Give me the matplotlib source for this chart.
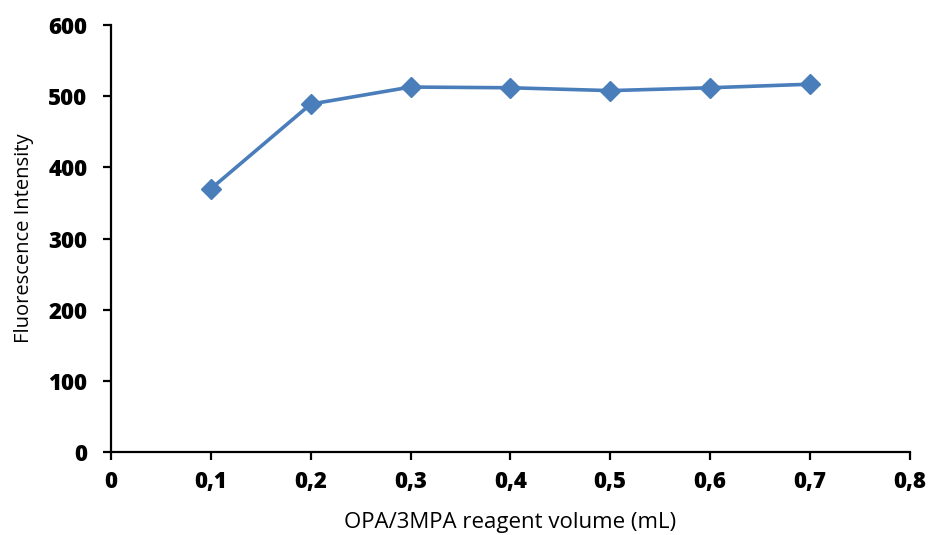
import matplotlib
matplotlib.use('Agg')
import matplotlib.pyplot as plt
from matplotlib.ticker import FuncFormatter

volume = [0.1, 0.2, 0.3, 0.4, 0.5, 0.6, 0.7]
intensity = [370, 489, 513, 512, 508, 512, 517]

plt.rcParams['font.family'] = ['Open Sans', 'DejaVu Sans']

fig = plt.figure(figsize=(9.33, 5.35), dpi=100)
ax = fig.add_axes([0.119, 0.155, 0.856, 0.798])

ax.plot(volume, intensity, color='#4A7EBB', lw=2.6, marker='D', markersize=10.5,
        markeredgecolor='#4A7EBB', clip_on=False)

ax.set_xlim(0, 0.8)
ax.set_ylim(0, 600)
ax.set_xticks([i / 10 for i in range(9)])
ax.set_yticks(range(0, 601, 100))
ax.xaxis.set_major_formatter(FuncFormatter(lambda v, p: ('%g' % round(v, 1)).replace('.', ',')))

for s in ['top', 'right']:
    ax.spines[s].set_visible(False)
for s in ['left', 'bottom']:
    ax.spines[s].set_linewidth(1.6)
ax.tick_params(direction='out', length=6, width=1.6, labelsize=16)
ax.tick_params(axis='x', pad=7)
ax.tick_params(axis='y', pad=11)
for lab in ax.get_xticklabels() + ax.get_yticklabels():
    lab.set_fontweight('heavy')

ax.set_xlabel('OPA/3MPA reagent volume (mL)', fontsize=16, labelpad=13)
ax.set_ylabel('Fluorescence Intensity', fontsize=14.5, labelpad=10)

fig.savefig('out.png', dpi=100)
